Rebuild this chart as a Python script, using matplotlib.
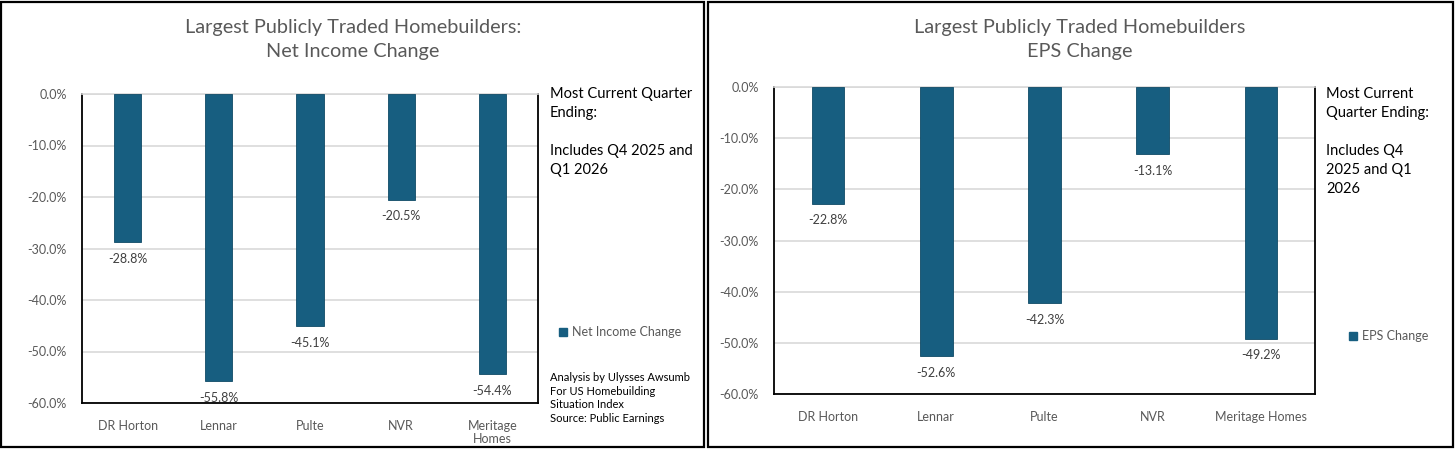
import matplotlib.pyplot as plt
from matplotlib.patches import Rectangle, Patch
from matplotlib.ticker import FuncFormatter

plt.rcParams['font.family'] = ['Lato', 'DejaVu Sans']

companies = ['DR Horton', 'Lennar', 'Pulte', 'NVR', 'Meritage Homes']
left_labels = ['DR Horton', 'Lennar', 'Pulte', 'NVR', 'Meritage\nHomes']
net_income_change = [-28.8, -55.8, -45.1, -20.5, -54.4]
eps_change = [-22.8, -52.6, -42.3, -13.1, -49.2]
yticks = [0, -10, -20, -30, -40, -50, -60]

bar_color = '#175E80'
gray = '#595959'
grid_gray = '#D9D9D9'

fig = plt.figure(figsize=(14.56, 4.49), dpi=100)

# panel borders
fig.patches.append(Rectangle((1 / 1456, 2 / 449), 703 / 1456, 445 / 449, transform=fig.transFigure,
                             fill=False, edgecolor='black', lw=1.6))
fig.patches.append(Rectangle((708 / 1456, 2 / 449), 745 / 1456, 445 / 449, transform=fig.transFigure,
                             fill=False, edgecolor='black', lw=1.6))


def draw_panel(ax, values, labels, legend_name):
    x = range(len(values))
    ax.bar(x, values, width=0.3, color=bar_color, edgecolor='#0F4A66', lw=0.6, zorder=3)
    ax.set_xlim(-0.5, len(values) - 0.5)
    ax.set_ylim(-60, 0)
    ax.set_yticks(yticks)
    ax.yaxis.set_major_formatter(FuncFormatter(lambda v, p: f'{v:.1f}%'))
    ax.set_xticks(list(x))
    ax.set_xticklabels(labels, linespacing=1.15)
    ax.tick_params(axis='x', length=0, labelsize=9, labelcolor=gray, pad=12)
    ax.tick_params(axis='y', length=0, labelsize=9, labelcolor=gray, pad=11)
    ax.grid(axis='y', color=grid_gray, lw=1.2, zorder=0)
    for s in ['left', 'right', 'bottom']:
        ax.spines[s].set_color('black')
        ax.spines[s].set_linewidth(1.3)
    ax.spines['top'].set_color(grid_gray)
    ax.spines['top'].set_linewidth(1.2)
    for i, v in enumerate(values):
        ax.annotate(f'{v:.1f}%', (i, v), xytext=(0, -12), textcoords='offset points',
                    ha='center', va='center', fontsize=9, color='#404040')
    return Patch(color=bar_color, label=legend_name)


# left panel
ax1 = fig.add_axes([82 / 1456, 46 / 449, 456 / 1456, 309 / 449])
h1 = draw_panel(ax1, net_income_change, left_labels, 'Net Income Change')
fig.text(353 / 1456, 1 - 39 / 449, 'Largest Publicly Traded Homebuilders:\nNet Income Change',
         ha='center', va='center', fontsize=14.3, color=gray, linespacing=1.5)
fig.text(550 / 1456, 1 - 87 / 449, 'Most Current Quarter\nEnding:\n\nIncludes Q4 2025 and\nQ1 2026',
         ha='left', va='top', fontsize=10.5, color='black', linespacing=1.45)
fig.legend(handles=[h1], loc='center left', bbox_to_anchor=(548 / 1456, 1 - 332 / 449),
           frameon=False, fontsize=9, labelcolor=gray, handlelength=0.6, handleheight=0.6,
           handletextpad=0.4)
fig.text(550 / 1456, 1 - 372 / 449,
         'Analysis by Ulysses Awsumb\nFor US Homebuilding\nSituation Index\nSource: Public Earnings',
         ha='left', va='top', fontsize=8, color='black', linespacing=1.3)

# right panel
ax2 = fig.add_axes([774 / 1456, 55 / 449, 541 / 1456, 307 / 449])
h2 = draw_panel(ax2, eps_change, companies, 'EPS Change')
fig.text(1080 / 1456, 1 - 40 / 449, 'Largest Publicly Traded Homebuilders\nEPS Change',
         ha='center', va='center', fontsize=14.3, color=gray, linespacing=1.5)
fig.text(1326 / 1456, 1 - 87 / 449, 'Most Current\nQuarter Ending:\n\nIncludes Q4\n2025 and Q1\n2026',
         ha='left', va='top', fontsize=10.5, color='black', linespacing=1.45)
fig.legend(handles=[h2], loc='center left', bbox_to_anchor=(1338 / 1456, 1 - 336 / 449),
           frameon=False, fontsize=9, labelcolor=gray, handlelength=0.6, handleheight=0.6,
           handletextpad=0.4)

fig.savefig('out.png', dpi=100)
